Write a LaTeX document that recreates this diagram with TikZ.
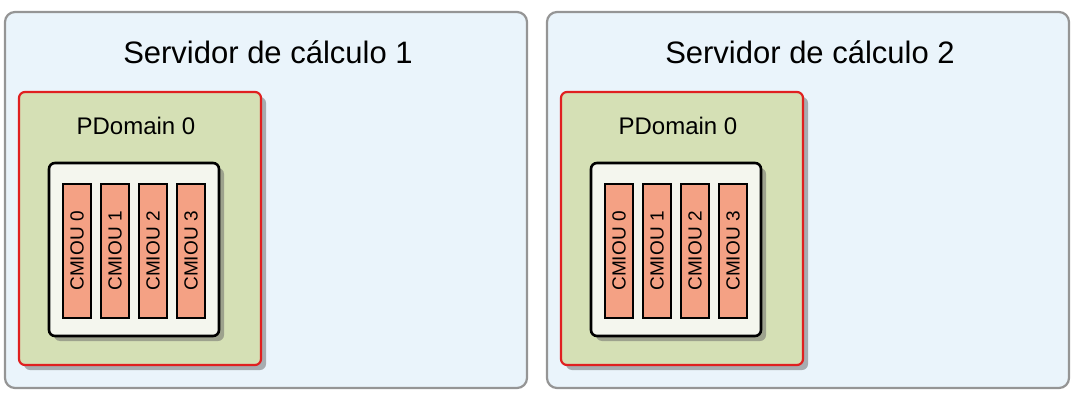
\documentclass[tikz,border=0pt]{standalone}
\usepackage{fontspec}
\setmainfont{Liberation Sans}
\usetikzlibrary{shadows}
\definecolor{serverfill}{HTML}{EAF4FB}
\definecolor{serverdraw}{HTML}{959595}
\definecolor{pdomfill}{HTML}{D5E0B5}
\definecolor{pdomdraw}{HTML}{E02020}
\definecolor{boardfill}{HTML}{F4F6EE}
\definecolor{cmiou}{HTML}{F4A184}
\tikzset{
  server/.style={draw=serverdraw, line width=2.2pt, fill=serverfill, rounded corners=10pt},
  pdom/.style={draw=pdomdraw, line width=2.2pt, fill=pdomfill, rounded corners=6pt,
    drop shadow={shadow xshift=5pt, shadow yshift=-5pt, fill=black!60}},
  board/.style={draw=black, line width=2.6pt, fill=boardfill, rounded corners=6pt,
    drop shadow={shadow xshift=5pt, shadow yshift=-5pt, fill=black!60}},
  slot/.style={draw=black, line width=1.5pt, fill=cmiou}
}
\begin{document}
\begin{tikzpicture}[x=1pt,y=-1pt]
  \useasboundingbox (0,0) rectangle (1077,404);

  \foreach \n/\dx in {1/0,2/542}{
    % Server frame
    \draw[server] (5+\dx,12) rectangle (527+\dx,388);
    \node (title\n) at (268+\dx,52) {\fontsize{31}{36}\selectfont Servidor de cálculo \n};

    % Physical domain
    \draw[pdom] (19+\dx,92) rectangle (261+\dx,365);
    \node (pdom\n) at (136+\dx,126) {\fontsize{24}{28}\selectfont PDomain 0};

    % Board with CMIOUs
    \draw[board] (49+\dx,163) rectangle (219+\dx,336);
    \foreach \k in {0,...,3}{
      \draw[slot] (63+38*\k+\dx,184) rectangle (91+38*\k+\dx,318);
      \node[rotate=90] (cmiou\n\k) at (77+38*\k+\dx,251) {\fontsize{19}{22}\selectfont CMIOU \k};
    }
  }
\end{tikzpicture}
\end{document}
